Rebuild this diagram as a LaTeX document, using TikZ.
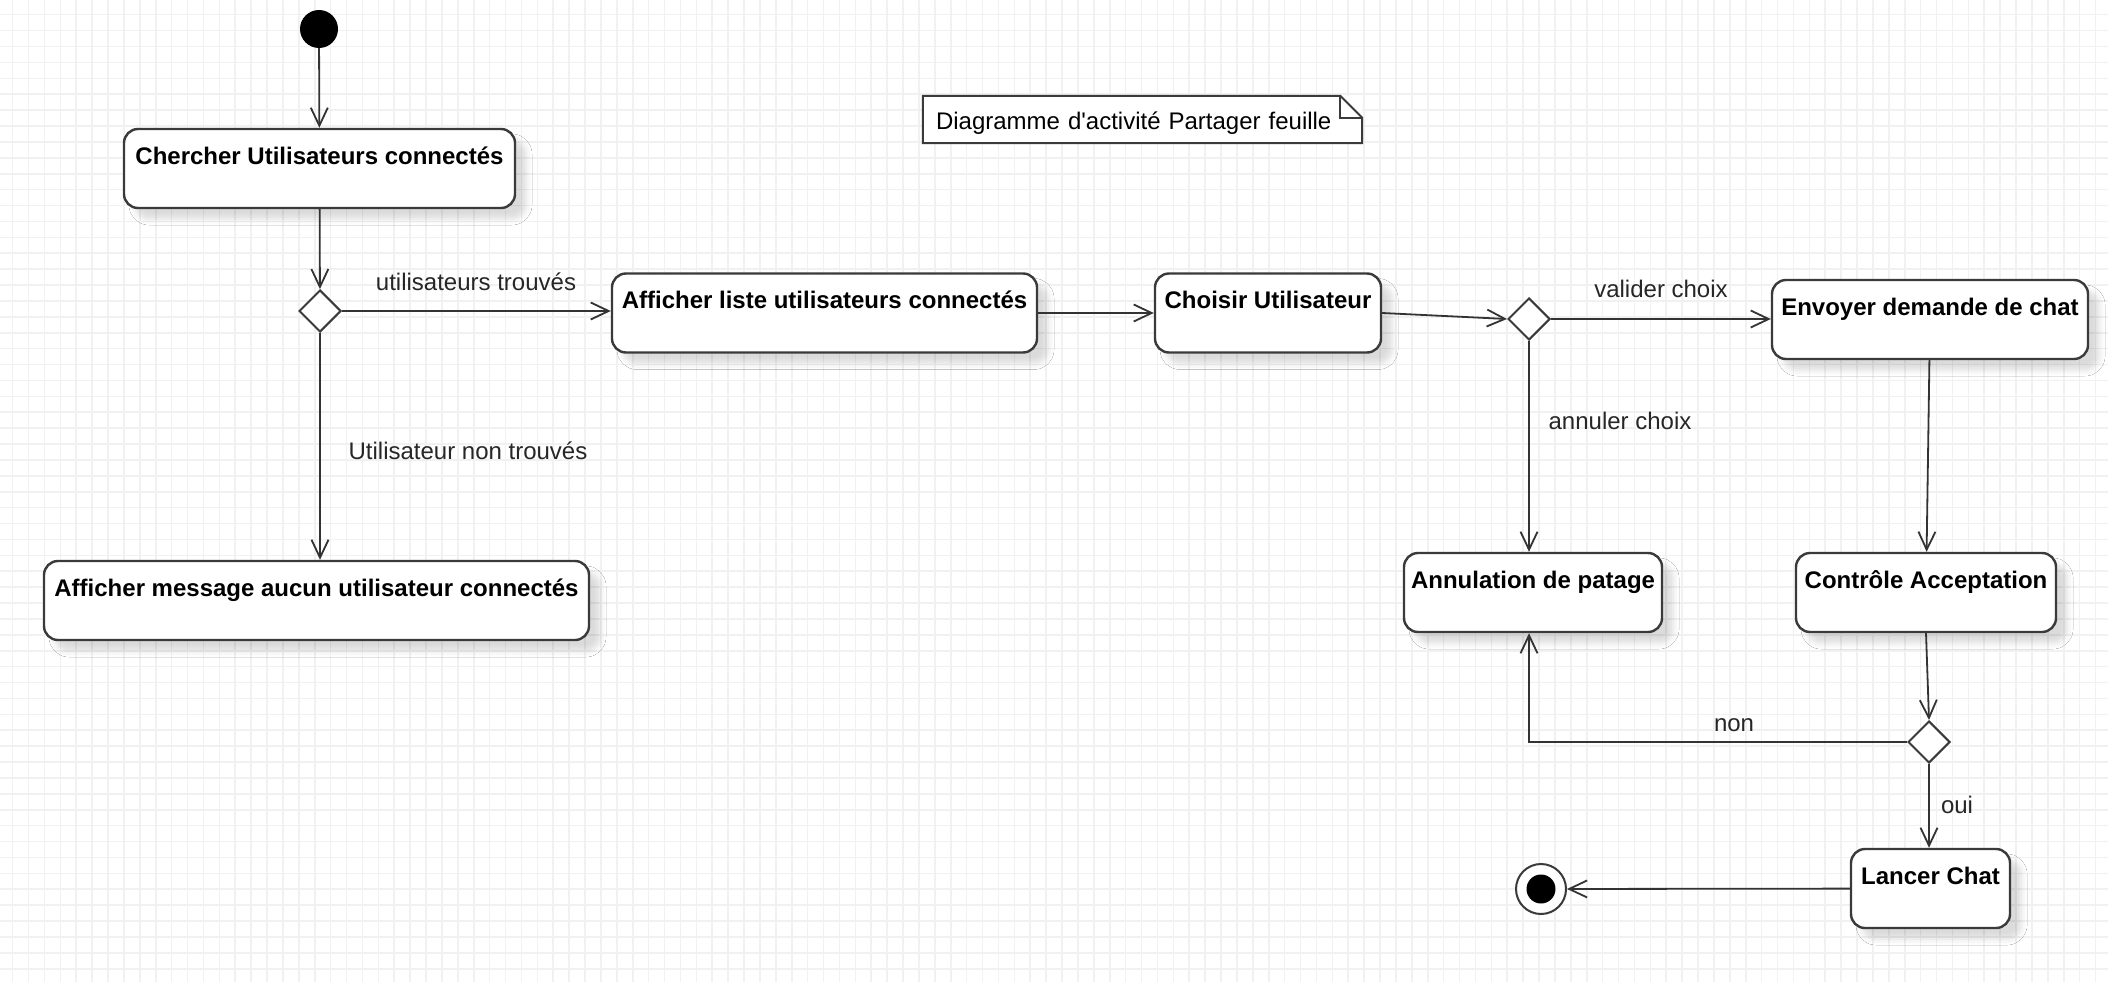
\documentclass[tikz,border=0pt]{standalone}
\usepackage{fontspec}
\newfontfamily\lsans{Liberation Sans}
\usetikzlibrary{arrows.meta,shapes.geometric,shadows.blur}
\definecolor{linec}{HTML}{333333}
\definecolor{boxc}{HTML}{3A3A3A}
\definecolor{gridc}{HTML}{F1F1F1}
\begin{document}
\begin{tikzpicture}[x=1pt,y=-1pt,
  font=\lsans\fontsize{24}{28}\selectfont,
  activity/.style={draw=boxc, line width=2.4pt, rounded corners=14pt, fill=white,
    text height=35pt, text depth=44pt, inner xsep=0pt, inner ysep=0pt,
    font=\lsans\fontsize{24}{28}\selectfont\bfseries,
    blur shadow={shadow xshift=11pt, shadow yshift=-11pt, shadow blur radius=6pt, shadow opacity=14}},
  decision/.style={diamond, draw=boxc, line width=2pt, fill=white, minimum size=42pt, inner sep=0pt, aspect=1},
  flow/.style={draw=linec, line width=1.8pt, -{Straight Barb[length=18pt,width=17pt]}},
  lbl/.style={anchor=base, text=black!85, inner sep=0pt},
  gridline/.style={draw=gridc, line width=1.6pt},
  notec/.style={draw=boxc, line width=2pt},
  notebox/.style={fill=white, text width=413pt, align=left, inner xsep=13pt, inner ysep=0pt, text height=33pt, text depth=14pt}
]
\fill[white] (0,0) rectangle (2108,982);
\useasboundingbox (0,0) rectangle (2108,982);
\foreach \i in {0,...,131} {\draw[gridline] ({12.6+15.9*\i},0) -- ({12.6+15.9*\i},982);}
\foreach \j in {0,...,61} {\draw[gridline] (0,{14.7+15.9*\j}) -- (2108,{14.7+15.9*\j});}

% note
\node[notebox] (note) at (1142.5,119.5) {Diagramme d'activité Partager feuille};
\draw[notec] (note.south west) -- (note.north west) -- ([xshift=-22pt]note.north east) -- ([yshift=-22pt]note.north east) -- (note.south east) -- cycle;
\draw[notec] ([xshift=-22pt]note.north east) -- ([xshift=-22pt,yshift=-22pt]note.north east) -- ([yshift=-22pt]note.north east);

% nodes
\node[circle, fill=black, minimum size=38pt, inner sep=0pt] (start) at (319,29) {};
\node[activity, minimum width=391pt] (chercher) at (319.5,168.5) {Chercher Utilisateurs connectés};
\node[decision] (d1) at (320,311) {};
\node[activity, minimum width=425pt] (liste) at (824.5,313) {Afficher liste utilisateurs connectés};
\node[activity, minimum width=226pt] (choisir) at (1268,313) {Choisir Utilisateur};
\node[decision] (d2) at (1529,319) {};
\node[activity, minimum width=316pt] (envoyer) at (1930,319.5) {Envoyer demande de chat};
\node[activity, minimum width=258pt] (annul) at (1533,592.5) {Annulation de patage};
\node[activity, minimum width=260pt] (controle) at (1926,592.5) {Contrôle Acceptation};
\node[decision] (d3) at (1929,742) {};
\node[activity, minimum width=159pt] (lancer) at (1930.5,888.5) {Lancer Chat};
\node[activity, minimum width=545pt] (msg) at (316.5,600.5) {Afficher message aucun utilisateur connectés};
\node[circle, draw=boxc, line width=2pt, fill=white, minimum size=50pt, inner sep=0pt,
  path picture={\fill[black] (path picture bounding box.center) circle (14.5pt);}] (fin) at (1541,889) {};

% connectors
\draw[flow] (start) -- (chercher);
\draw[flow] (chercher) -- (d1);
\draw[flow] (d1.east) -- (d1.east -| liste.west);
\draw[flow] (liste) -- (choisir);
\draw[flow] (choisir.east) -- (d2.west);
\draw[flow] (d2.east) -- (d2.east -| envoyer.west);
\draw[flow] (d2.south) -- (d2.south |- annul.north);
\draw[flow] (envoyer) -- (controle);
\draw[flow] (controle.south) -- (d3.north);
\draw[flow] (d3.west) -| (d2 |- annul.south);
\draw[flow] (d3.south) -- (d3.south |- lancer.north);
\draw[flow] (lancer) -- (fin);
\draw[flow] (d1.south) -- (d1.south |- msg.north);

% labels
\node[lbl] (l1) at (476,290) {utilisateurs trouvés};
\node[lbl] (l2) at (468,459) {Utilisateur non trouvés};
\node[lbl] (l3) at (1661,297) {valider choix};
\node[lbl] (l4) at (1620,429) {annuler choix};
\node[lbl] (l5) at (1734,731) {non};
\node[lbl] (l6) at (1957,813) {oui};
\end{tikzpicture}
\end{document}
